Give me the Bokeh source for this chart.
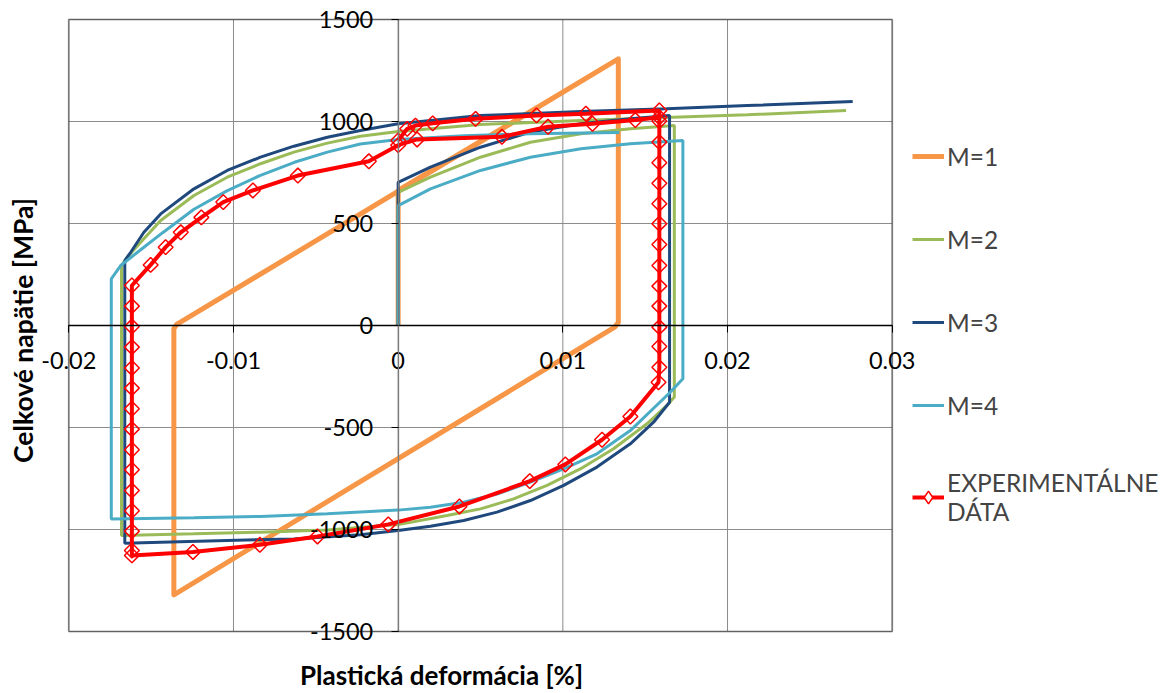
import numpy as np
from bokeh.plotting import figure
from bokeh.models import (LinearAxis, FixedTicker, Legend, LegendItem, Label,
                          Range1d, BoxAnnotation)
from bokeh.embed import file_html
from bokeh.resources import INLINE

# ---------------- data ----------------
x_ticks = [-0.02, -0.01, 0.0, 0.01, 0.02, 0.03]
x_tick_labels = ["-0.02", "-0.01", "0", "0.01", "0.02", "0.03"]
y_ticks = [-1500, -1000, -500, 0, 500, 1000, 1500]
y_tick_labels = ["-1500", "-1000", "-500", "0", "500", "1000", "1500"]

x_title = "Plastická deformácia [%]"
y_title = "Celkové napätie [MPa]"

series_names = ["M=1", "M=2", "M=3", "M=4", "EXPERIMENTÁLNE\nDÁTA"]

m1_x = [0.0, 0.0, 0.01337, 0.01337, 0.01315, -0.01362, -0.01362, -0.01345, 0.01337]
m1_y = [0, 662, 1307, 15, -8, -1320, -15, 5, 1307]

m2_x = [0.0, 0.0, 0.00196, 0.005, 0.00803, 0.0111, 0.0141, 0.01677,
        0.01677, 0.01632, 0.01511, 0.01308, 0.01106, 0.00904, 0.00701, 0.005, 0.00297, 0.0,
        -0.0043, -0.00836, -0.0124, -0.0168,
        -0.0168, -0.01645, -0.01544, -0.01442, -0.0124, -0.01038, -0.00836, -0.00633, -0.0043,
        -0.00229, 0.0, 0.005, 0.0111, 0.0167, 0.0212, 0.0272]
m2_y = [0, 653, 727, 825, 898, 940, 964, 980,
        -351, -392, -482, -604, -703, -784, -850, -899, -931, -976,
        -1002, -1013, -1021, -1029,
        294, 335, 425, 515, 637, 727, 793, 850, 894,
        928, 951, 985, 1005, 1021, 1033, 1054]

m3_x = [0.0, 0.0, 0.00196, 0.005, 0.00803, 0.01108, 0.01409, 0.01648,
        0.01648, 0.01551, 0.0141, 0.01207, 0.01005, 0.00803, 0.006, 0.00398, 0.00196, 0.0,
        -0.00229, -0.00633, -0.0104, -0.0144, -0.0166,
        -0.0166, -0.01624, -0.01544, -0.01442, -0.0124, -0.01038, -0.00836, -0.00633, -0.0043,
        -0.00229, 0.0, 0.005, 0.0111, 0.0163, 0.0212, 0.0276]
m3_y = [0, 702, 776, 874, 948, 989, 1013, 1029,
        -376, -474, -580, -694, -784, -858, -915, -956, -984, -1005,
        -1026, -1046, -1054, -1062, -1067,
        318, 359, 457, 547, 670, 760, 825, 879, 923,
        956, 989, 1029, 1049, 1062, 1078, 1098]

m4_x = [0.0, 0.0, 0.00196, 0.005, 0.00803, 0.0111, 0.0141, 0.01729,
        0.01729, 0.01652, 0.0141, 0.01207, 0.01005, 0.00803, 0.006, 0.00398, 0.00196, 0.0,
        -0.0043, -0.00836, -0.0124, -0.01742,
        -0.01742, -0.01685, -0.0155, -0.0143, -0.0124, -0.0104, -0.0084, -0.0063, -0.0043, -0.0023,
        0.0, 0.004, 0.008, 0.01343]
m4_y = [0, 588, 670, 760, 825, 866, 891, 907,
        -261, -327, -515, -629, -703, -768, -826, -866, -891, -905,
        -923, -936, -943, -948,
        229, 294, 380, 455, 570, 660, 735, 800, 850, 890,
        912, 930, 940, 946]

exp_x = [0.0, 0.00055, 0.00105, 0.0021, 0.0047, 0.0084, 0.0114, 0.01586,
         0.01586, 0.01586, 0.01586, 0.01586, 0.01586, 0.01586, 0.01586, 0.01586, 0.01586,
         0.01586, 0.01586, 0.01586, 0.01586, 0.01581,
         0.0141, 0.01238, 0.01015, 0.00799, 0.00372, -0.0006, -0.0049, -0.0084, -0.01246,
         -0.01617, -0.01617, -0.01617, -0.01617, -0.01617, -0.01617, -0.01617, -0.01617,
         -0.01617, -0.01617, -0.01617, -0.01617, -0.01617, -0.01617, -0.01617,
         -0.01503, -0.01412, -0.0132, -0.01195, -0.01062, -0.00882, -0.00609, -0.00178,
         0.0, 0.00115, 0.0063, 0.0091, 0.0118, 0.0144, 0.01586]
exp_y = [907, 964, 980, 991, 1013, 1030, 1038, 1054,
         1002, 899, 798, 697, 597, 499, 397, 294, 193,
         95, -8, -103, -205, -278,
         -446, -560, -681, -763, -887, -975, -1034, -1075, -1110,
         -1127, -1103, -1008, -908, -809, -707, -609, -508,
         -408, -307, -208, -106, -5, 95, 196,
         297, 384, 457, 530, 605, 662, 735, 805, 884,
         912, 925, 974, 989, 1007, 1021, 1025]

colors = ["#F79646", "#9BBB59", "#1F497D", "#4BACC6", "#FF0000"]
FONT = "Lato"

# ---------------- layout (pixels) ----------------
W, H = 1168, 692
BOX_L, BOX_R, BOX_T, BOX_B = 68.3, 891.7, 19.0, 631.0
x_min, x_max = x_ticks[0], x_ticks[-1]
y_min, y_max = y_ticks[0], y_ticks[-1]
sx = (BOX_R - BOX_L) / (x_max - x_min)
sy = (BOX_B - BOX_T) / (y_max - y_min)
x_range = Range1d(x_min - BOX_L / sx, x_max + (W - BOX_R) / sx)
y_range = Range1d(y_min - (H - BOX_B) / sy, y_max + BOX_T / sy)

p = figure(frame_width=W, frame_height=H, min_border=0,
           x_range=x_range, y_range=y_range,
           x_axis_location=None, y_axis_location=None,
           toolbar_location=None, output_backend="svg")
p.outline_line_color = None
p.background_fill_color = "white"
p.border_fill_color = "white"
p.grid.grid_line_color = None

# grid lines, limited to the plot box
p.segment(x0=x_ticks, y0=[y_min] * len(x_ticks), x1=x_ticks, y1=[y_max] * len(x_ticks),
          line_color="#8c8c8c", line_width=1)
p.segment(x0=[x_min] * len(y_ticks), y0=y_ticks, x1=[x_max] * len(y_ticks), y1=y_ticks,
          line_color="#8c8c8c", line_width=1)

r1 = p.line(m1_x, m1_y, line_color=colors[0], line_width=5, line_join="round")
r2 = p.line(m2_x, m2_y, line_color=colors[1], line_width=3)
r3 = p.line(m3_x, m3_y, line_color=colors[2], line_width=3)
r4 = p.line(m4_x, m4_y, line_color=colors[3], line_width=3)
r5 = p.line(exp_x, exp_y, line_color=colors[4], line_width=4)
r5m = p.scatter(exp_x, exp_y, marker="square", angle=np.pi / 4, size=10.5,
                line_color=colors[4], line_width=1.5, fill_alpha=0)
# legend-only marker proxy (not drawn in the plot; legend glyphs are never rotated)
r5leg = p.scatter(x=[np.nan], y=[np.nan], marker="diamond", size=10,
                  line_color=colors[4], line_width=1.5, fill_color="white")

# plot-area border
p.add_layout(BoxAnnotation(left=x_min, right=x_max, bottom=y_min, top=y_max,
                           fill_alpha=0, line_color="black", line_width=2, level="overlay"))

# axes crossing at zero
xax = LinearAxis(fixed_location=0, ticker=FixedTicker(ticks=x_ticks), bounds=(x_min, x_max))
xax.major_label_overrides = dict(zip(x_ticks, x_tick_labels))
yax = LinearAxis(fixed_location=0, ticker=FixedTicker(ticks=y_ticks), bounds=(y_min, y_max))
yax.major_label_overrides = dict(zip(y_ticks, y_tick_labels))
for ax, col, so in ((xax, "black", 19), (yax, "#7a7a7a", 18)):
    ax.axis_line_color = col
    ax.axis_line_width = 1.3
    ax.major_tick_out = 7
    ax.major_tick_in = 0
    ax.major_tick_line_color = "black"
    ax.minor_tick_out = 0
    ax.minor_tick_in = 0
    ax.major_label_standoff = so
    ax.major_label_text_font = FONT
    ax.major_label_text_font_size = "23.5px"
    ax.major_label_text_color = "black"
p.add_layout(xax, "below")
p.add_layout(yax, "left")

# axis titles
p.add_layout(Label(x=441, y=H - 674, x_units="screen", y_units="screen", text=x_title,
                   text_align="center", text_baseline="middle", text_font=FONT,
                   text_font_style="bold", text_font_size="26px", text_color="black"))
p.add_layout(Label(x=22, y=H - 330, x_units="screen", y_units="screen", text=y_title,
                   angle=np.pi / 2, text_align="center", text_baseline="middle",
                   text_font=FONT, text_font_style="bold", text_font_size="26.5px",
                   text_color="black"))

legend = Legend(items=[LegendItem(label=series_names[0], renderers=[r1]),
                       LegendItem(label=series_names[1], renderers=[r2]),
                       LegendItem(label=series_names[2], renderers=[r3]),
                       LegendItem(label=series_names[3], renderers=[r4]),
                       LegendItem(label=series_names[4], renderers=[r5, r5leg])],
                location=(912, 166), padding=6, margin=0, spacing=43,
                glyph_width=32, glyph_height=40, label_height=40, label_standoff=3,
                label_text_font=FONT, label_text_font_size="24.5px",
                label_text_line_height=1.6,
                border_line_color=None, background_fill_alpha=0)
p.add_layout(legend)

open("out.html", "w").write(file_html(p, INLINE))
